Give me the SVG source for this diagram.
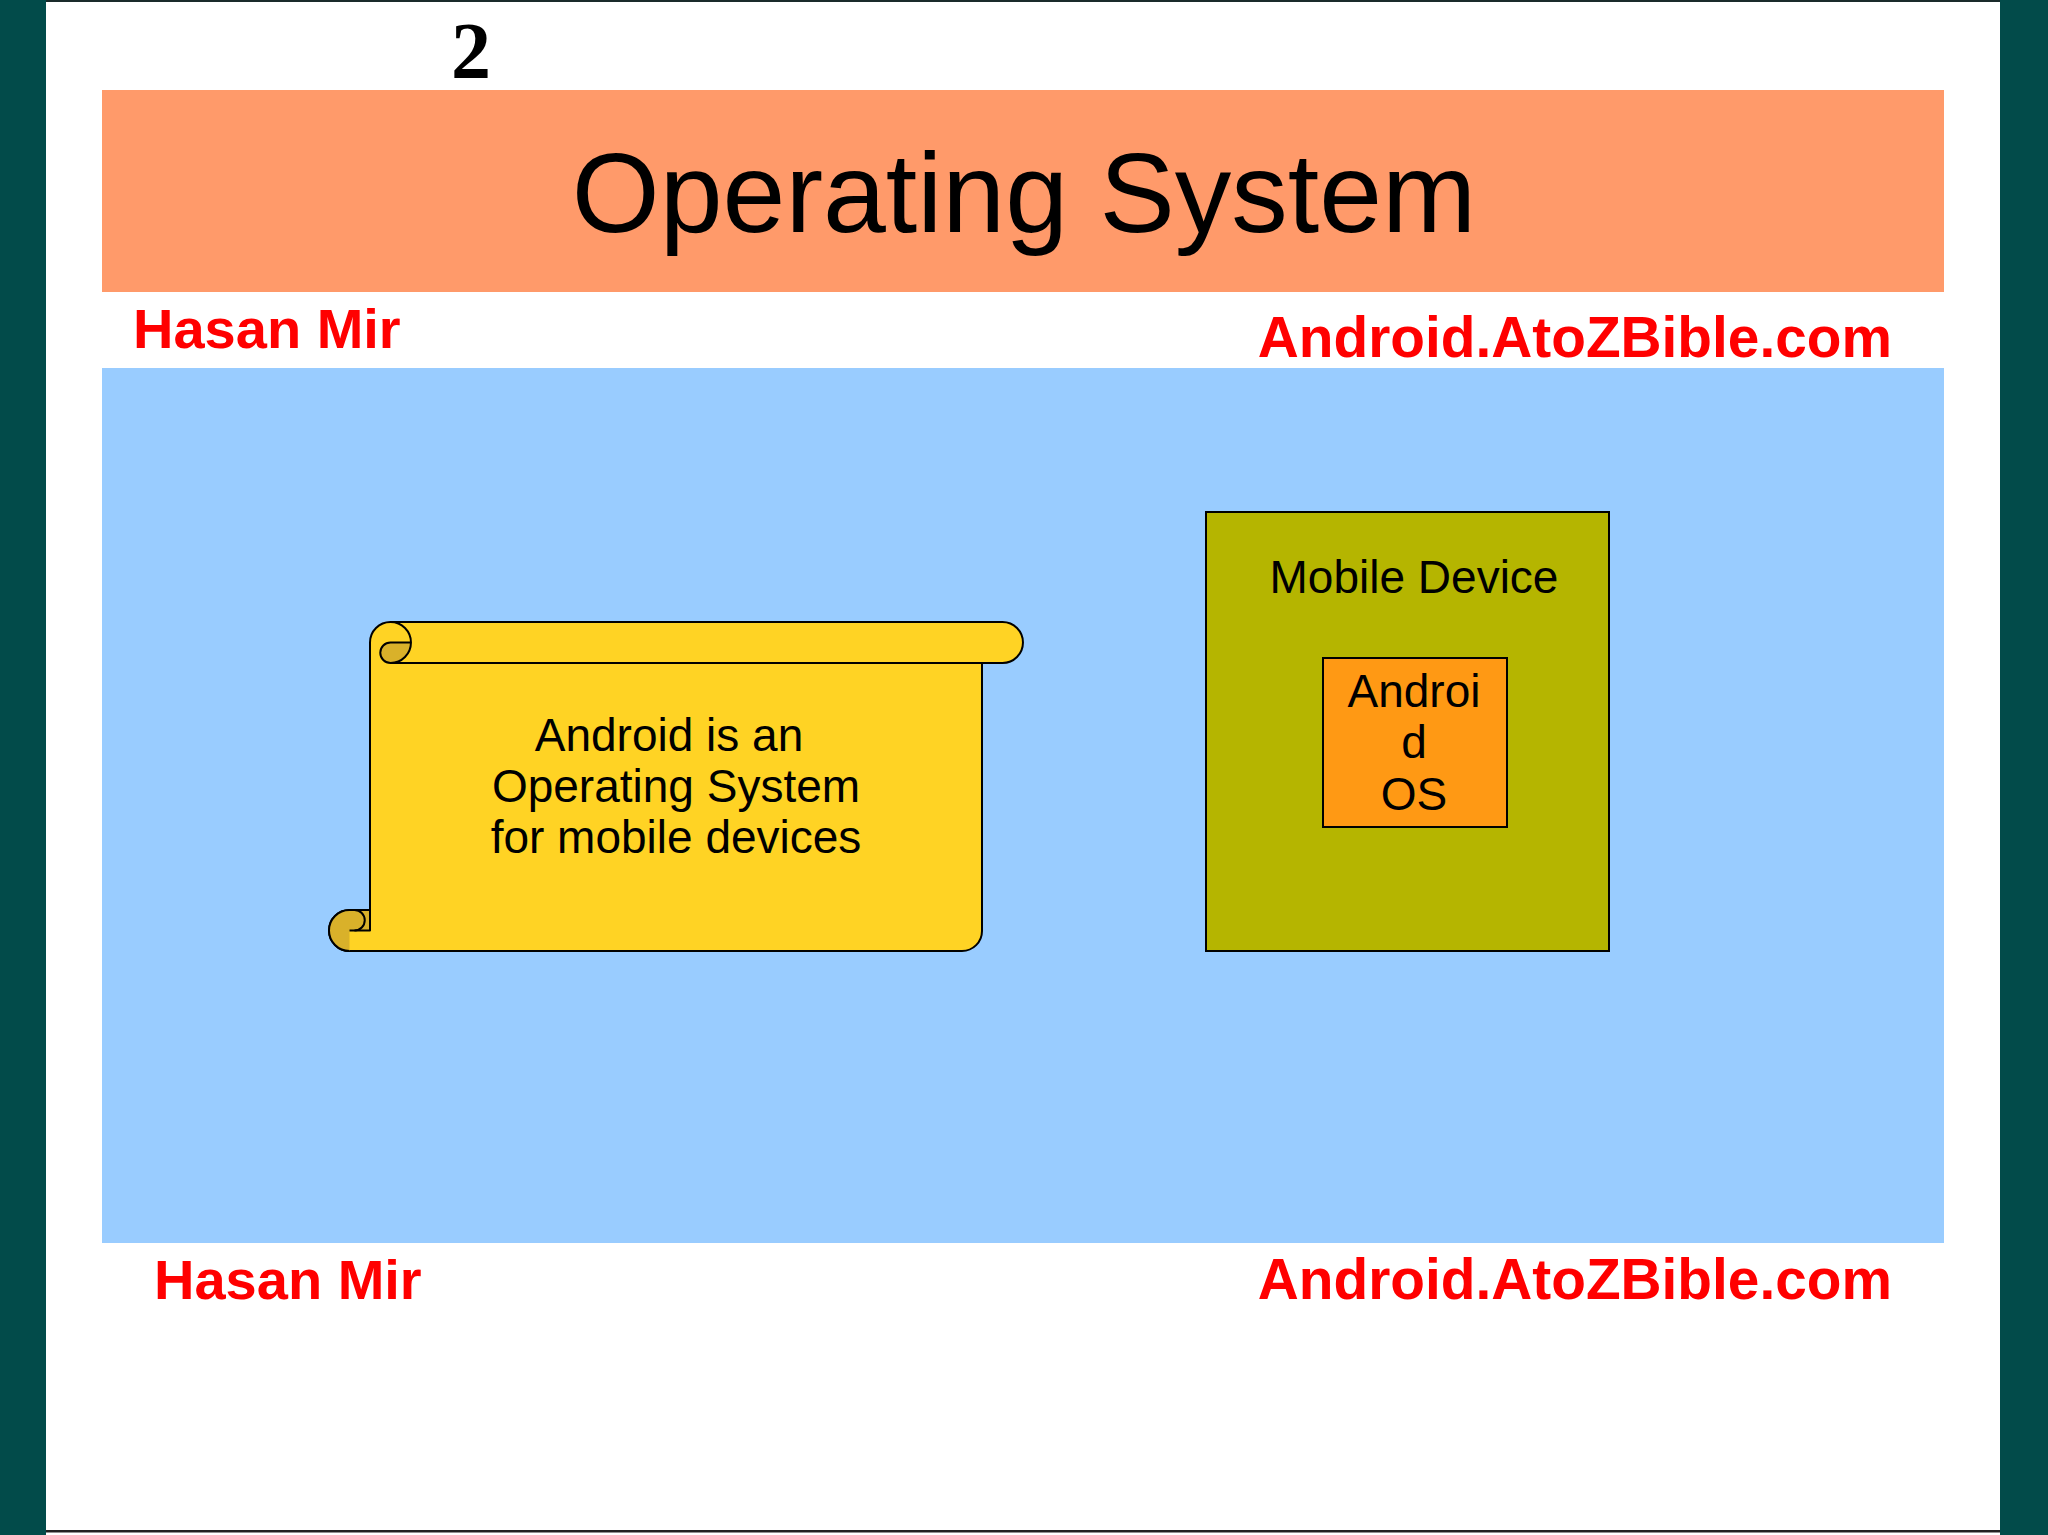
<svg xmlns="http://www.w3.org/2000/svg" width="2048" height="1535" viewBox="0 0 2048 1535">
  <style>
    .red { font-family: "Liberation Sans", Arial, sans-serif; font-weight: bold; font-size: 56px; fill: #FF0000; }
    .url { font-size: 56.8px; }
    .lbl { font-family: "Liberation Sans", Arial, sans-serif; font-size: 46px; fill: #000000; text-anchor: middle; }
    .ln { fill: none; stroke: #000000; stroke-width: 2; stroke-linejoin: round; }
  </style>
  <rect x="0" y="0" width="2048" height="1535" fill="#FFFFFF"/>
  <rect x="0" y="0" width="46" height="1535" fill="#024B4A"/>
  <rect x="2000" y="0" width="48" height="1535" fill="#024B4A"/>
  <rect x="46" y="0" width="1954" height="2" fill="#1a2b2b"/>
  <rect x="46" y="1530" width="1954" height="2.5" fill="#222222"/>

  <text x="471" y="78" font-family="Liberation Serif, 'Times New Roman', serif" font-weight="bold" font-size="80" text-anchor="middle" fill="#000000">2</text>

  <g id="header">
    <rect x="102" y="90" width="1842" height="202" fill="#FF9A6A"/>
    <text x="1024" y="232" font-family="Liberation Sans, Arial, sans-serif" font-size="113" text-anchor="middle" fill="#000000">Operating System</text>
  </g>

  <text class="red" x="133" y="348">Hasan Mir</text>
  <text class="red url" x="1892" y="357" text-anchor="end">Android.AtoZBible.com</text>

  <rect id="content" x="102" y="368" width="1842" height="875" fill="#99CCFF"/>

  <g id="scroll">
    <path d="M 390.5,622 H 1002.5 A 20.5 20.5 0 0 1 1002.5,663 H 982 V 931 A 20 20 0 0 1 962,951 H 349.5 A 20.5 20.5 0 0 1 349.5,910 H 370 V 642.5 A 20.5 20.5 0 0 1 390.5,622 Z" fill="#FFD324" stroke="#000000" stroke-width="2"/>
    <path d="M 390.5,642.5 H 411 A 20.5 20.5 0 0 1 390.5,663 A 10.25 10.25 0 0 1 390.5,642.5 Z" fill="#D9B12A"/>
    <path d="M 349.5,951 A 20.5 20.5 0 0 1 349.5,910 H 370 V 930.5 H 349.5 Z" fill="#D9B12A"/>
    <path class="ln" d="M 390.5,622 A 20.5 20.5 0 0 1 390.5,663 A 10.25 10.25 0 0 1 390.5,642.5 H 411"/>
    <path class="ln" d="M 390.5,663 H 982"/>
    <path class="ln" d="M 349.5,951 A 20.5 20.5 0 0 1 349.5,910 H 370 V 930.5 H 349.5"/>
    <path class="ln" d="M 354.5,910 A 10.25 10.25 0 0 1 354.5,930.5"/>
    <text class="lbl" x="669" y="751">Android is an</text>
    <text class="lbl" x="676" y="802">Operating System</text>
    <text class="lbl" x="676" y="853">for mobile devices</text>
  </g>

  <g id="mobile-device">
    <rect x="1206" y="512" width="403" height="439" fill="#B5B500" stroke="#000000" stroke-width="2"/>
    <text class="lbl" x="1414" y="593">Mobile Device</text>
  </g>

  <g id="android-os">
    <rect x="1323" y="658" width="184" height="169" fill="#FF9914" stroke="#000000" stroke-width="2"/>
    <text class="lbl" x="1414" y="707">Androi</text>
    <text class="lbl" x="1414" y="758">d</text>
    <text class="lbl" x="1414" y="810">OS</text>
  </g>

  <g id="connectors"></g>

  <text class="red" x="154" y="1299">Hasan Mir</text>
  <text class="red url" x="1892" y="1299" text-anchor="end">Android.AtoZBible.com</text>
</svg>
